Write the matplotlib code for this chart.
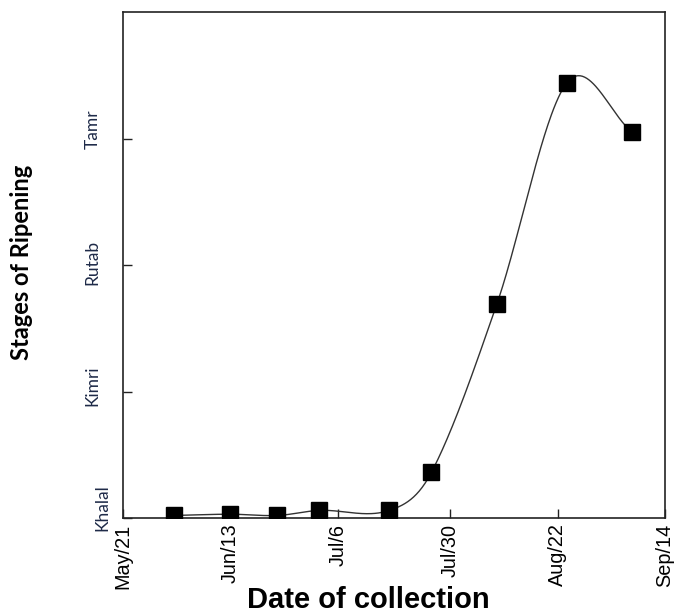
import numpy as np
import matplotlib
matplotlib.use("Agg")
import matplotlib.pyplot as plt
import matplotlib.dates as mdates
import matplotlib.transforms as mtransforms
from datetime import date

# ---- data ----
collection_dates = ["2015-06-01", "2015-06-13", "2015-06-23", "2015-07-02", "2015-07-17",
                    "2015-07-26", "2015-08-09", "2015-08-24", "2015-09-07"]
stage_values = [0.02, 0.03, 0.02, 0.06, 0.06, 0.36, 1.69, 3.44, 3.05]
xtick_dates = ["2015-05-21", "2015-06-13", "2015-07-06", "2015-07-30", "2015-08-22", "2015-09-14"]
xtick_labels = ["May/21", "Jun/13", "Jul/6", "Jul/30", "Aug/22", "Sep/14"]
stage_ticks = [0, 1, 2, 3]
stage_labels = ["Khalal", "Kimri", "Rutab", "Tamr"]


def to_num(s):
    return mdates.date2num(date.fromisoformat(s))


x = np.array([to_num(d) for d in collection_dates])
y = np.array(stage_values)


def hermite_smooth(xk, yk, per_seg=60):
    """Cardinal (Catmull-Rom style) smoothing line through the points."""
    n = len(xk)
    m = np.zeros(n)
    m[1:-1] = (yk[2:] - yk[:-2]) / (xk[2:] - xk[:-2])
    m[0] = (yk[1] - yk[0]) / (xk[1] - xk[0])
    m[-1] = (yk[-1] - yk[-2]) / (xk[-1] - xk[-2])
    xs_all, ys_all = [], []
    for i in range(n - 1):
        h = xk[i + 1] - xk[i]
        t = np.linspace(0, 1, per_seg)
        h00 = 2 * t**3 - 3 * t**2 + 1
        h10 = t**3 - 2 * t**2 + t
        h01 = -2 * t**3 + 3 * t**2
        h11 = t**3 - t**2
        xs_all.append(xk[i] + t * h)
        ys_all.append(h00 * yk[i] + h10 * h * m[i] + h01 * yk[i + 1] + h11 * h * m[i + 1])
    return np.concatenate(xs_all), np.concatenate(ys_all)


xs, ys = hermite_smooth(x, y)

fig = plt.figure(figsize=(6.8, 6.16), dpi=100)
ax = fig.add_axes([123 / 680, 1 - 518 / 616, (665 - 123) / 680, (518 - 12) / 616])

ax.plot(xs, ys, color="#333333", lw=1.0, zorder=2)
ax.plot(x, y, linestyle="none", marker="s", ms=11.5, color="black", zorder=3)

ax.set_xlim(to_num(xtick_dates[0]), to_num(xtick_dates[-1]))
ax.set_ylim(0, 4)

ax.set_xticks([to_num(d) for d in xtick_dates])
ax.set_xticklabels(xtick_labels, rotation=90, fontsize=14.3, family="Liberation Sans")
ax.set_yticks(stage_ticks)
ax.set_yticklabels(stage_labels, rotation=90, fontsize=12.5, family="Lato",
                   color="#1e2a48", va="center")

ax.tick_params(axis="both", direction="in", length=6.5, width=1.0, color="#222222")
ax.tick_params(axis="x", pad=4)
ax.tick_params(axis="y", pad=16)

for sp in ax.spines.values():
    sp.set_linewidth(1.2)
    sp.set_color("#222222")

# shift tick labels as in reference
offsets = [(10, 10), (0, 6), (0, 3), (0, 9)]
for lab, (dx, dy) in zip(ax.get_yticklabels(), offsets):
    lab.set_transform(lab.get_transform() +
                      mtransforms.ScaledTranslation(dx / 100, dy / 100, fig.dpi_scale_trans))

ax.set_xlabel("Date of collection", fontsize=21, fontweight="bold",
              family="Liberation Sans", labelpad=0, va="baseline")
ax.xaxis.set_label_coords(0.452, -0.178)
ax.set_ylabel("Stages of Ripening", fontsize=17, fontweight="bold", family="Lato")
ax.yaxis.set_label_coords(-0.166, 0.505)

fig.savefig("out.png", dpi=100)
